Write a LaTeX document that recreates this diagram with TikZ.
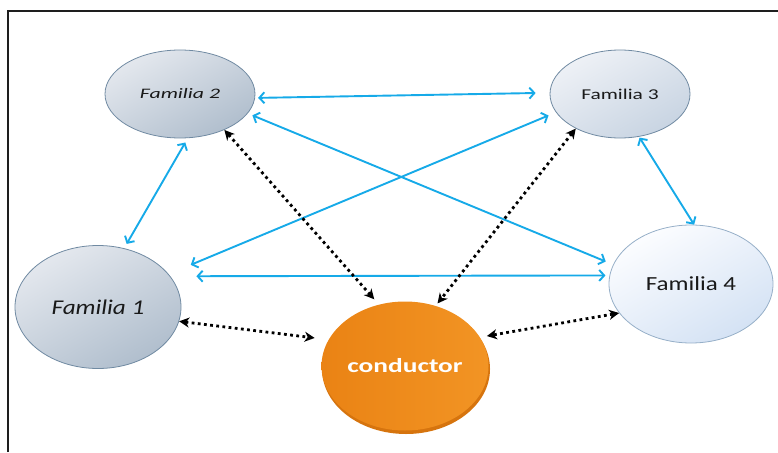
\documentclass[tikz,border=0pt]{standalone}
\usepackage{fontspec}
\setmainfont{Carlito}
\usetikzlibrary{arrows.meta,shapes.geometric}
\definecolor{fblue}{RGB}{22,170,232}
\definecolor{frameline}{RGB}{30,30,30}
\definecolor{famborder}{RGB}{112,138,162}
\definecolor{famborderlight}{RGB}{150,175,200}
\definecolor{gA}{RGB}{228,232,238}
\definecolor{gB}{RGB}{176,190,205}
\definecolor{gC}{RGB}{238,241,246}
\definecolor{gD}{RGB}{200,212,226}
\definecolor{gE}{RGB}{252,253,255}
\definecolor{gF}{RGB}{212,226,244}
\definecolor{condfill}{RGB}{234,131,20}
\definecolor{condlight}{RGB}{242,148,36}
\definecolor{condrim}{RGB}{214,116,14}
\tikzset{
  fam/.style={ellipse, draw=famborder, line width=0.8pt, inner sep=0pt, text=black!90},
  blink/.style={draw=fblue, line width=1.9pt,
    {Straight Barb[length=5pt,width=11pt]}-{Straight Barb[length=5pt,width=11pt]}},
  dlink/.style={draw=black, line width=2.8pt, dash pattern=on 2.8pt off 3.4pt,
    {Stealth[length=10pt,width=10pt,inset=3pt]}-{Stealth[length=10pt,width=10pt,inset=3pt]}}
}
\begin{document}
\begin{tikzpicture}[x=1pt,y=-1pt]
\useasboundingbox (0,0) rectangle (778,452);
% frame
\draw[frameline, line width=1.5pt] (8,452) -- (8,11) -- (778,11);
% family nodes
\node[fam, minimum width=150pt, minimum height=88pt,
      top color=gA, bottom color=gB, shading angle=30] (f2) at (180,94)
  {\scalebox{1.5}[1]{\fontsize{14.5}{15}\selectfont\itshape Familia 2}};
\node[fam, minimum width=140pt, minimum height=88pt,
      top color=gC, bottom color=gD, shading angle=30] (f3) at (620,94)
  {\scalebox{1.43}[1]{\fontsize{15}{16}\selectfont Familia 3}};
\node[fam, minimum width=166pt, minimum height=123pt,
      top color=gA, bottom color=gB, shading angle=30] (f1) at (98,307)
  {\scalebox{1.2}[1]{\fontsize{21}{22}\selectfont\itshape Familia 1}};
\node[fam, draw=famborderlight, minimum width=164pt, minimum height=118pt,
      top color=gE, bottom color=gF, shading angle=30] (f4) at (691,284)
  {\scalebox{1.25}[1]{\fontsize{20}{21}\selectfont Familia 4}};
% conductor with rim
\fill[condrim] (406,369) ellipse [x radius=84, y radius=65];
\node[ellipse, inner sep=0pt, minimum width=167pt, minimum height=129pt,
      left color=condfill, right color=condlight, text=white] (c) at (405,366)
  {\scalebox{1.37}[1]{\fontsize{20}{21}\selectfont\bfseries conductor}};
% blue connectors
\draw[blink, shorten <=3pt, shorten >=14pt] (f2.-3) -- (f3.179);
\draw[blink, shorten <=5pt, shorten >=8pt] (f2.-16) -- (f4.166);
\draw[blink, shorten <=8pt, shorten >=24pt] (f3.-164.5) -- (f1.25.6);
\draw[blink, shorten <=26pt, shorten >=4pt] (f1.23.3) -- (f4.174.6);
\draw[blink, shorten <=5pt, shorten >=5pt] (f1.66) -- (f2.-80);
\draw[blink, shorten <=1pt, shorten >=0pt] (f3.-66) -- (f4.87);
% dotted connectors
\draw[dlink, shorten >=7pt] (f2.-39) -- (c.113);
\draw[dlink, shorten >=3pt] (f3.-142) -- (c.63);
\draw[dlink, shorten >=14pt] (f1.-10.6) -- (c.161);
\draw[dlink, shorten >=7pt] (f4.-158) -- (c.21);
\end{tikzpicture}
\end{document}
